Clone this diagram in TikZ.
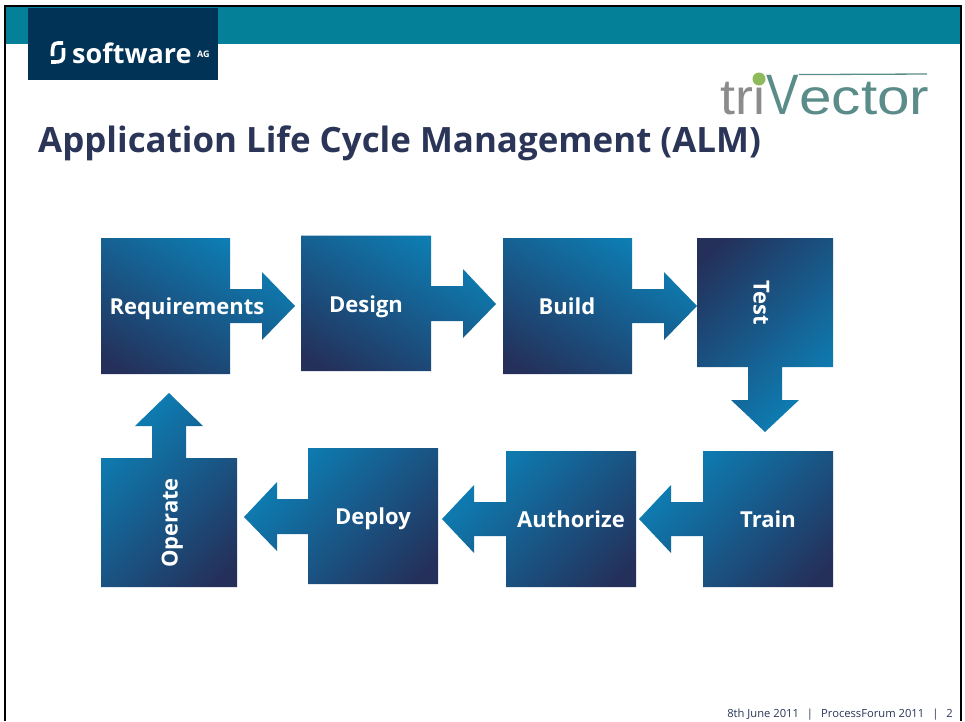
\documentclass[tikz,border=0pt]{standalone}
\usepackage{fontspec}
\setmainfont{Open Sans}
\newfontfamily\logofont{Liberation Sans}
\definecolor{flowdark}{HTML}{24305A}
\definecolor{flowlight}{HTML}{0B85BC}
\definecolor{bandteal}{HTML}{058099}
\definecolor{logonavy}{HTML}{003355}
\definecolor{titleink}{HTML}{2A3558}
\definecolor{trigray}{HTML}{8C8C8C}
\definecolor{trigreen}{HTML}{8DBB5C}
\definecolor{vectorteal}{HTML}{5A8C89}
\pgfdeclareverticalshading{flowup}{100bp}{color(0bp)=(flowdark); color(20bp)=(flowdark); color(78bp)=(flowlight); color(100bp)=(flowlight)}
\pgfdeclareverticalshading{flowback}{100bp}{color(0bp)=(flowlight); color(22bp)=(flowlight); color(80bp)=(flowdark); color(100bp)=(flowdark)}
\tikzset{
  flowright/.style={shading=flowup,shading angle=-30},
  flowdown/.style={shading=flowback,shading angle=45},
  flowleft/.style={shading=flowup,shading angle=45},
  steplabel/.style={text=white,font=\fontsize{22}{24}\selectfont\bfseries,inner sep=0pt,anchor=base},
  logotext/.style={font=\logofont\fontsize{50}{52}\selectfont,inner sep=0pt,anchor=base west,xscale=1.17},
}
\begin{document}
\begin{tikzpicture}[x=1pt,y=-1pt]
\useasboundingbox (0,0) rectangle (965,721);

\fill[bandteal] (6,7) rectangle (960,44);
\draw[black,line width=2.2pt] (5,721) -- (5,6) -- (961,6) -- (961,721);

\fill[logonavy] (28,8) rectangle (218,80);
\draw[white,line width=3.6pt] (63,43) -- (58,43) .. controls (53,43) and (52.5,47) .. (52.5,50) -- (52.5,56);
\draw[white,line width=3.6pt] (63.5,48) -- (63.5,56) .. controls (63.5,61) and (60,62) .. (55,62) -- (51,62);
\node[text=white,font=\fontsize{27}{29}\selectfont\bfseries,inner sep=0pt,anchor=base west] (software) at (72,63) {software};
\node[text=white,font=\fontsize{9}{10}\selectfont\bfseries,inner sep=0pt,anchor=base west] (ag) at (197,57) {AG};

\node[logotext,text=trigray,xscale=0.92] (tri) at (720,114) {tri};
\node[logotext,text=vectorteal,font=\logofont\fontsize{57}{59}\selectfont,xscale=0.73] (vee) at (766,114) {V};
\node[logotext,text=vectorteal] (ector) at (799,114) {ector};
\fill[trigreen] (759,79) circle (6.5);
\draw[vectorteal,line width=1.3pt] (vee.north east) -- (927,74);

\node[text=titleink,font=\fontsize{34.9}{38}\selectfont\bfseries,inner sep=0pt,anchor=base west] (title) at (38,152) {Application Life Cycle Management (ALM)};

\shade[flowright] (101,238) -- (230,238) -- (230,289) -- (262,289) -- (262,272) -- (295,306) -- (262,340) -- (262,323) -- (230,323) -- (230,374) -- (101,374) -- cycle;
\shade[flowright] (301,235.5) -- (431,235.5) -- (431,286) -- (463,286) -- (463,269) -- (496,304) -- (463,338) -- (463,321) -- (431,321) -- (431,371) -- (301,371) -- cycle;
\shade[flowright] (503,238) -- (632,238) -- (632,289) -- (664,289) -- (664,272) -- (697,306) -- (664,340) -- (664,323) -- (632,323) -- (632,374) -- (503,374) -- cycle;
\shade[flowdown] (697,238) -- (833,238) -- (833,367) -- (782,367) -- (782,400) -- (799,400) -- (765,432) -- (731,400) -- (748,400) -- (748,367) -- (697,367) -- cycle;
\shade[flowleft] (833,451) -- (703,451) -- (703,502) -- (671,502) -- (671,485) -- (639,519) -- (671,553) -- (671,536) -- (703,536) -- (703,587) -- (833,587) -- cycle;
\shade[flowleft] (636,451) -- (506,451) -- (506,502) -- (474,502) -- (474,485) -- (442,519) -- (474,553) -- (474,536) -- (506,536) -- (506,587) -- (636,587) -- cycle;
\shade[flowleft] (438,448) -- (308,448) -- (308,499) -- (277,499) -- (277,482) -- (244,517) -- (277,551) -- (277,534) -- (308,534) -- (308,584) -- (438,584) -- cycle;
\shade[flowleft] (237,458) -- (186,458) -- (186,426) -- (203,426) -- (169,393) -- (135,426) -- (152,426) -- (152,458) -- (101,458) -- (101,587) -- (237,587) -- cycle;

\node[steplabel] (requirements) at (187,314) {Requirements};
\node[steplabel] (design) at (366,312) {Design};
\node[steplabel] (build) at (567,314) {Build};
\node[steplabel,rotate=-90] (test) at (753.5,303) {Test};
\node[steplabel] (train) at (768,527.5) {Train};
\node[steplabel] (authorize) at (571,527.5) {Authorize};
\node[steplabel] (deploy) at (373,524.5) {Deploy};
\node[steplabel,rotate=90] (operate) at (177.5,523) {Operate};

\node[text=titleink,font=\fontsize{11.2}{13}\selectfont,inner sep=0pt,anchor=base east] (footer) at (953,717) {8th June 2011\hspace{8pt}|\hspace{8pt}ProcessForum 2011\hspace{8pt}|\hspace{8pt}2};
\end{tikzpicture}
\end{document}
